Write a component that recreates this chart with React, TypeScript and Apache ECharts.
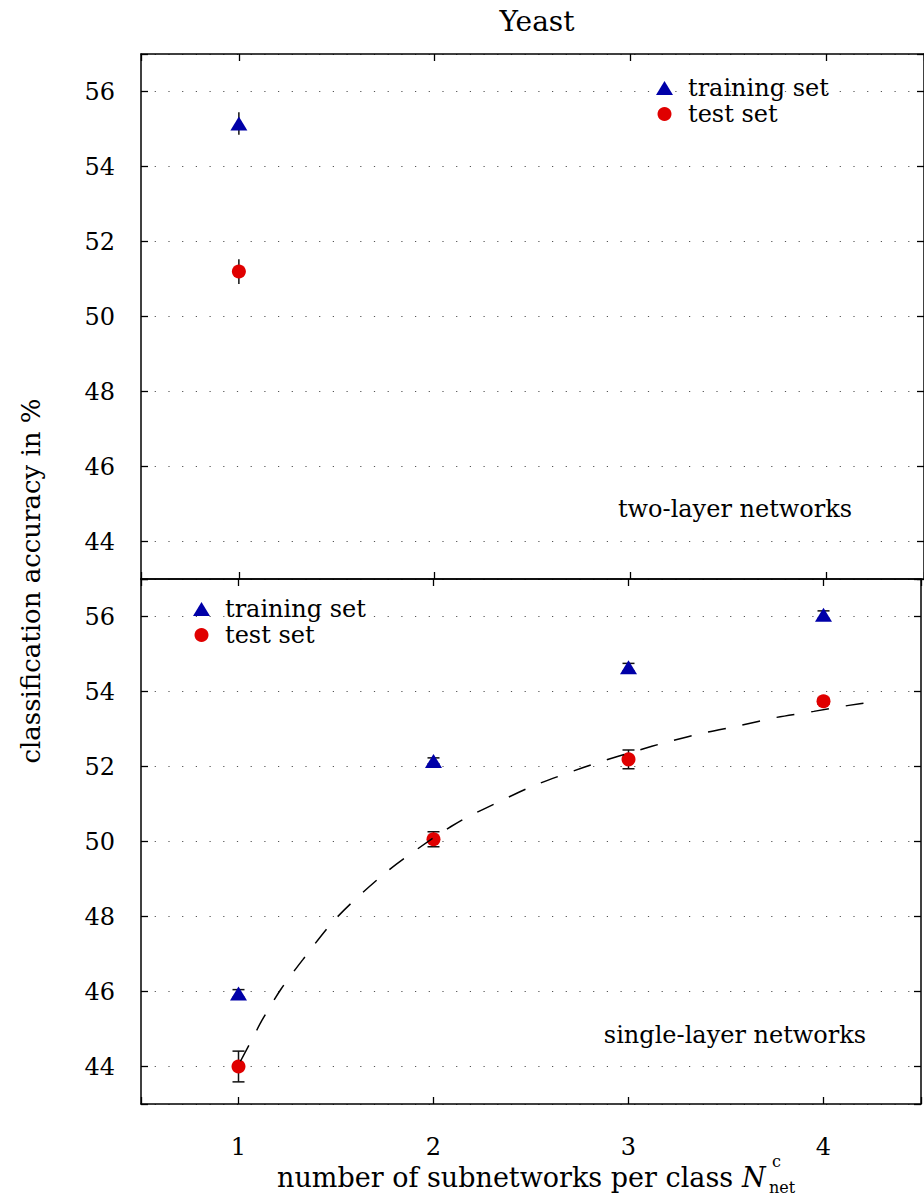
import React, { useEffect, useRef } from "react";
import * as echarts from "echarts";

// ---- data ----
const twoLayerN = [1];
const twoLayerTrain = [55.15];
const twoLayerTrainErr = [0.3];
const twoLayerTest = [51.2];
const twoLayerTestErr = [0.33];

const singleLayerN = [1, 2, 3, 4];
const singleLayerTrain = [45.95, 52.15, 54.65, 56.05];
const singleLayerTrainErr = [0.1, 0.08, 0.1, 0.1];
const singleLayerTest = [44.0, 50.06, 52.19, 53.74];
const singleLayerTestErr = [0.41, 0.2, 0.25, 0.08];

const fitX = [1.01, 1.08, 1.12, 1.22, 1.33, 1.5, 1.75, 2.0, 2.09, 2.17, 2.34, 2.505, 2.68, 2.857, 3.03, 3.21, 3.39, 3.57, 3.76, 3.95, 4.13, 4.26];
const fitY = [44.14, 44.83, 45.23, 46.08, 46.85, 47.95, 49.15, 50.1, 50.4, 50.64, 51.07, 51.47, 51.81, 52.13, 52.4, 52.67, 52.9, 53.09, 53.31, 53.47, 53.63, 53.73];

const FONT = "'DejaVu Serif', serif";
const BLUE = "#0000A8";
const RED = "#E00000";

function errSeries(xi: number, xs: number[], ys: number[], es: number[], cap: number) {
  return {
    type: "custom",
    xAxisIndex: xi,
    yAxisIndex: xi,
    silent: true,
    z: 1,
    data: xs.map((x, i) => [x, ys[i] - es[i], ys[i] + es[i]]),
    encode: { x: 0, y: [1, 2] },
    renderItem: (params: any, api: any) => {
      const lo = api.coord([api.value(0), api.value(1)]);
      const hi = api.coord([api.value(0), api.value(2)]);
      const st = { stroke: "#111", lineWidth: 1.5 };
      const children: any[] = [
        { type: "line", shape: { x1: lo[0], y1: lo[1], x2: hi[0], y2: hi[1] }, style: st },
      ];
      if (cap > 0) {
        children.push({ type: "line", shape: { x1: lo[0] - cap / 2, y1: lo[1], x2: lo[0] + cap / 2, y2: lo[1] }, style: st });
        children.push({ type: "line", shape: { x1: hi[0] - cap / 2, y1: hi[1], x2: hi[0] + cap / 2, y2: hi[1] }, style: st });
      }
      return { type: "group", children };
    },
  };
}

function xAxes(gi: number) {
  const common = {
    type: "value",
    gridIndex: gi,
    min: 0.5,
    max: 4.5,
    splitNumber: 4,
    axisLine: { show: true, onZero: false, lineStyle: { color: "#000", width: 1.5 } },
    axisTick: { show: true, inside: true, length: 7, lineStyle: { color: "#000", width: 1.3 } },
    splitLine: { show: false },
  };
  return [
    {
      ...common,
      position: "bottom",
      axisLabel: {
        show: gi === 1,
        margin: 31,
        fontFamily: FONT,
        fontSize: 24,
        lineHeight: 24,
        color: "#000",
        formatter: (v: number) => (Number.isInteger(v) ? String(v) : ""),
      },
    },
    { ...common, position: "top", axisLabel: { show: false } },
  ];
}

function yAxes(gi: number) {
  const common = {
    type: "value",
    gridIndex: gi,
    min: 43,
    max: 57,
    splitNumber: 7,
    axisLine: { show: true, onZero: false, lineStyle: { color: "#000", width: 1.5 } },
    axisTick: { show: true, inside: true, length: 7, lineStyle: { color: "#000", width: 1.3 } },
  };
  return [
    {
      ...common,
      position: "left",
      axisLabel: {
        margin: 26,
        fontFamily: FONT,
        fontSize: 24,
        color: "#000",
        formatter: (v: number) => (v % 2 === 0 ? String(v) : ""),
      },
      splitLine: { show: true, lineStyle: { color: "#555", width: 1.2, type: [1.2, 12.5] } },
    },
    { ...common, position: "right", axisLabel: { show: false }, splitLine: { show: false } },
  ];
}

function legendFor(left: number, top: number) {
  return {
    orient: "vertical",
    left,
    top,
    itemWidth: 17,
    itemHeight: 14,
    itemGap: 2,
    selectedMode: false,
    data: [
      { name: "training set", icon: "triangle", itemStyle: { color: BLUE, opacity: 1 } },
      { name: "test set", icon: "circle", itemStyle: { color: RED, opacity: 1 } },
    ],
    textStyle: { fontFamily: FONT, fontSize: 24, color: "#000", padding: [0, 0, 0, 10] },
  };
}

export default function App() {
  const ref = useRef<HTMLDivElement>(null);
  useEffect(() => {
    if (!ref.current) return;
    const chart = echarts.init(ref.current, null, { renderer: "svg" });
    const xa = [...xAxes(0), ...xAxes(1)];
    const ya = [...yAxes(0), ...yAxes(1)];
    const scatterStyle = (c: string) => ({ color: c, opacity: 1 });
    const option: any = {
      animation: false,
      backgroundColor: "#fff",
      grid: [
        { left: 141, top: 54, width: 784, height: 525 },
        { left: 141, top: 579, width: 784, height: 525 },
      ],
      xAxis: xa,
      yAxis: ya,
      legend: [legendFor(651, 71), legendFor(188, 592)],
      series: [
        { ...errSeries(0, twoLayerN, twoLayerTrain, twoLayerTrainErr, 0), xAxisIndex: 0, yAxisIndex: 0 },
        { ...errSeries(0, twoLayerN, twoLayerTest, twoLayerTestErr, 0), xAxisIndex: 0, yAxisIndex: 0 },
        { ...errSeries(2, singleLayerN, singleLayerTrain, singleLayerTrainErr, 12), xAxisIndex: 2, yAxisIndex: 2 },
        { ...errSeries(2, singleLayerN, singleLayerTest, singleLayerTestErr, 12), xAxisIndex: 2, yAxisIndex: 2 },
        {
          name: "training set",
          type: "scatter",
          xAxisIndex: 0,
          yAxisIndex: 0,
          symbol: "triangle",
          symbolSize: [17, 14],
          itemStyle: scatterStyle(BLUE),
          z: 3,
          data: twoLayerN.map((x, i) => [x, twoLayerTrain[i]]),
        },
        {
          name: "test set",
          type: "scatter",
          xAxisIndex: 0,
          yAxisIndex: 0,
          symbol: "circle",
          symbolSize: 14,
          itemStyle: scatterStyle(RED),
          z: 3,
          data: twoLayerN.map((x, i) => [x, twoLayerTest[i]]),
        },
        {
          name: "training set",
          type: "scatter",
          xAxisIndex: 2,
          yAxisIndex: 2,
          symbol: "triangle",
          symbolSize: [17, 14],
          itemStyle: scatterStyle(BLUE),
          z: 3,
          data: singleLayerN.map((x, i) => [x, singleLayerTrain[i]]),
        },
        {
          name: "test set",
          type: "scatter",
          xAxisIndex: 2,
          yAxisIndex: 2,
          symbol: "circle",
          symbolSize: 14,
          itemStyle: scatterStyle(RED),
          z: 3,
          data: singleLayerN.map((x, i) => [x, singleLayerTest[i]]),
        },
        {
          name: "fit",
          type: "line",
          xAxisIndex: 2,
          yAxisIndex: 2,
          smooth: 0.3,
          showSymbol: false,
          silent: true,
          z: 4,
          lineStyle: { color: "#000", width: 1.5, type: [18, 17] },
          data: fitX.map((x, i) => [x, fitY[i]]),
        },
      ],
      graphic: [
        {
          type: "text",
          x: 537,
          y: 21,
          style: { text: "Yeast", fontFamily: FONT, fontSize: 28, fill: "#000", align: "center", verticalAlign: "middle" },
        },
        {
          type: "text",
          x: 31,
          y: 581,
          rotation: Math.PI / 2,
          style: {
            text: "classification accuracy in %",
            fontFamily: FONT,
            fontSize: 26,
            fill: "#000",
            align: "center",
            verticalAlign: "middle",
          },
        },
        {
          type: "text",
          x: 735,
          y: 509,
          style: { text: "two-layer networks", fontFamily: FONT, fontSize: 24, fill: "#000", align: "center", verticalAlign: "middle" },
        },
        {
          type: "text",
          x: 735,
          y: 1035,
          style: { text: "single-layer networks", fontFamily: FONT, fontSize: 24, fill: "#000", align: "center", verticalAlign: "middle" },
        },
        {
          type: "text",
          x: 277,
          y: 1177,
          style: {
            text: "number of subnetworks per class",
            fontFamily: FONT,
            fontSize: 27,
            lineHeight: 27,
            fill: "#000",
            align: "left",
            verticalAlign: "middle",
          },
        },
        {
          type: "text",
          x: 742,
          y: 1177,
          style: { text: "N", fontFamily: FONT, fontStyle: "italic", fontSize: 27, lineHeight: 27, fill: "#000", align: "left", verticalAlign: "middle" },
        },
        {
          type: "text",
          x: 772,
          y: 1161,
          style: { text: "c", fontFamily: FONT, fontSize: 16, lineHeight: 16, fill: "#000", align: "left", verticalAlign: "middle" },
        },
        {
          type: "text",
          x: 769,
          y: 1187,
          style: { text: "net", fontFamily: FONT, fontSize: 16, lineHeight: 16, fill: "#000", align: "left", verticalAlign: "middle" },
        },
      ],
    };
    chart.setOption(option);
    return () => chart.dispose();
  }, []);
  return (
    <div
      ref={ref}
      style={{ position: "absolute", left: 0, top: 0, width: 924, height: 1198, background: "#fff" }}
    />
  );
}
